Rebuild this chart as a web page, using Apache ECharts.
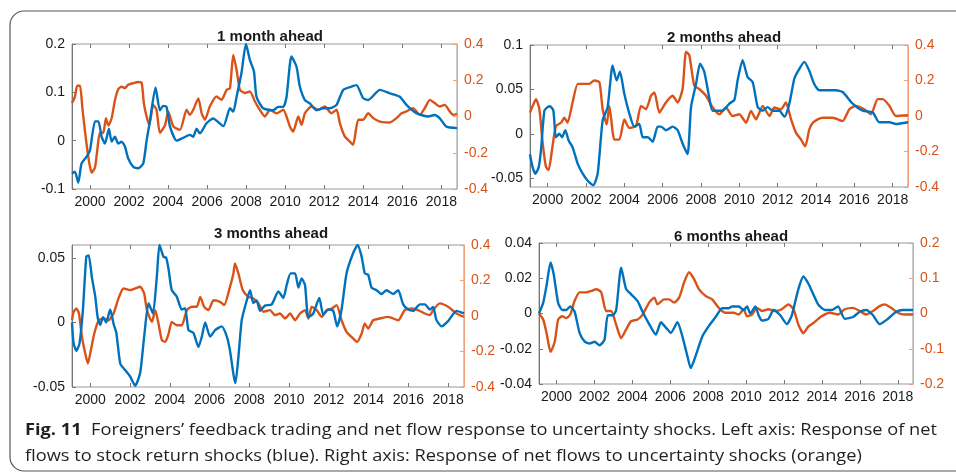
<!DOCTYPE html>
<html>
<head>
<meta charset="utf-8">
<script src="https://cdn.jsdelivr.net/npm/echarts@6/dist/echarts.min.js"></script>
<style>
  html, body { margin: 0; padding: 0; background: #fff; }
  #chart { width: 956px; height: 474px; }
</style>
</head>
<body>
<div id="chart"></div>
<script>
// x tick years, shared by all panels
const yearTicks = [2000, 2002, 2004, 2006, 2008, 2010, 2012, 2014, 2016, 2018];
const xMin = 1999.08, xMax = 2018.8;

const titles = ['1 month ahead', '2 months ahead', '3 months ahead', '6 months ahead'];

// [year, response]
const p1Blue = [[1999.08,-0.068],[1999.23,-0.064],[1999.40,-0.087],[1999.57,-0.047],[1999.83,-0.033],[2000.00,-0.02],[2000.26,0.04],[2000.43,0.04],[2000.60,0.008],[2000.77,-0.006],[2000.97,0.025],[2001.11,-0.002],[2001.28,0.008],[2001.45,-0.006],[2001.62,-0.002],[2001.79,-0.012],[2001.96,-0.037],[2002.22,-0.054],[2002.47,-0.057],[2002.73,-0.047],[2002.90,0],[2003.05,0.035],[2003.36,0.11],[2003.58,0.063],[2003.75,0.072],[2003.92,0.07],[2004.10,0.029],[2004.44,0],[2004.78,0.006],[2005.12,0.012],[2005.29,0.008],[2005.46,0.025],[2005.63,0.015],[2005.97,0.036],[2006.31,0.046],[2006.83,0.03],[2007.17,0.067],[2007.34,0.06],[2007.51,0.091],[2007.76,0.14],[2007.99,0.2],[2008.19,0.167],[2008.40,0.143],[2008.53,0.091],[2008.87,0.067],[2009.39,0.063],[2009.64,0.07],[2009.90,0.07],[2010.07,0.091],[2010.32,0.174],[2010.58,0.153],[2010.75,0.112],[2011.01,0.084],[2011.26,0.077],[2011.60,0.063],[2011.95,0.067],[2012.29,0.067],[2012.63,0.074],[2012.97,0.105],[2013.40,0.112],[2013.65,0.115],[2013.99,0.088],[2014.25,0.084],[2014.85,0.105],[2015.36,0.098],[2015.87,0.091],[2016.21,0.074],[2016.72,0.057],[2017.32,0.05],[2017.66,0.053],[2017.92,0.046],[2018.26,0.029],[2018.80,0.026]];
const p1Orange = [[1999.08,0.074],[1999.23,0.11],[1999.35,0.17],[1999.49,0.17],[1999.62,0.037],[1999.80,-0.13],[1999.97,-0.26],[2000.09,-0.31],[2000.26,-0.28],[2000.38,-0.18],[2000.51,-0.09],[2000.68,-0.09],[2000.82,-0.01],[2000.94,-0.05],[2001.11,-0.01],[2001.28,0.09],[2001.45,0.15],[2001.62,0.165],[2001.79,0.157],[2001.96,0.175],[2002.22,0.184],[2002.47,0.19],[2002.65,0.184],[2002.76,0.074],[2002.90,0],[2003.04,-0.046],[2003.24,0.064],[2003.41,0.037],[2003.58,-0.09],[2003.84,-0.05],[2004.01,0.028],[2004.27,-0.055],[2004.61,-0.074],[2004.95,0.037],[2005.12,0.009],[2005.29,0.037],[2005.55,0.1],[2005.72,0.018],[2005.89,-0.018],[2006.14,0.055],[2006.48,0.11],[2006.74,0.092],[2007.00,0.147],[2007.17,0.156],[2007.34,0.34],[2007.51,0.257],[2007.68,0.147],[2007.94,0.13],[2008.19,0.138],[2008.45,0.083],[2008.70,0.037],[2008.96,0],[2009.22,0.037],[2009.56,0.018],[2009.90,0.037],[2010.24,-0.055],[2010.41,-0.083],[2010.67,0],[2010.84,-0.046],[2011.01,0.018],[2011.35,0.055],[2011.69,0.037],[2012.03,0.055],[2012.37,0.018],[2012.63,0.037],[2012.80,-0.037],[2013.05,-0.11],[2013.31,-0.138],[2013.48,-0.156],[2013.74,-0.018],[2013.99,-0.018],[2014.25,0.018],[2014.51,-0.009],[2014.85,-0.028],[2015.36,-0.033],[2015.70,-0.009],[2015.96,0.018],[2016.21,0.028],[2016.55,0.046],[2016.89,0.009],[2017.15,0.046],[2017.41,0.092],[2017.66,0.074],[2017.92,0.055],[2018.17,0.064],[2018.43,0.028],[2018.60,0.009],[2018.80,0.015]];

const p2Blue = [[1999.08,-0.023],[1999.22,-0.038],[1999.36,-0.045],[1999.53,-0.038],[1999.65,-0.019],[1999.83,0.026],[2000.00,0.03],[2000.12,0.031],[2000.30,0.026],[2000.43,-0.004],[2000.61,0],[2000.75,-0.004],[2000.92,0.004],[2001.10,-0.008],[2001.30,-0.015],[2001.57,-0.034],[2001.83,-0.045],[2002.09,-0.053],[2002.38,-0.058],[2002.61,-0.045],[2002.87,0.015],[2003.13,0.03],[2003.39,0.077],[2003.60,0.06],[2003.77,0.07],[2004.00,0.045],[2004.26,0.023],[2004.52,0.008],[2004.78,0.011],[2004.96,-0.004],[2005.22,-0.004],[2005.48,-0.009],[2005.74,0.008],[2005.91,0.008],[2006.17,0.004],[2006.52,0.008],[2006.78,0.004],[2007.04,-0.011],[2007.30,-0.023],[2007.48,0.03],[2007.74,0.056],[2007.95,0.079],[2008.17,0.07],[2008.43,0.041],[2008.61,0.026],[2009.13,0.026],[2009.48,0.034],[2009.74,0.038],[2009.91,0.06],[2010.17,0.083],[2010.43,0.064],[2010.70,0.058],[2010.96,0.03],[2011.22,0.026],[2011.48,0.03],[2011.74,0.026],[2012.09,0.026],[2012.35,0.019],[2012.61,0.034],[2012.87,0.062],[2013.13,0.073],[2013.39,0.081],[2013.65,0.071],[2013.91,0.056],[2014.17,0.049],[2014.52,0.049],[2015.04,0.049],[2015.39,0.047],[2015.91,0.034],[2016.43,0.026],[2016.96,0.024],[2017.30,0.013],[2017.83,0.013],[2018.17,0.011],[2018.80,0.013]];
const p2Orange = [[1999.08,0.019],[1999.22,0.057],[1999.39,0.095],[1999.57,0.038],[1999.74,-0.152],[1999.91,-0.286],[2000.05,-0.305],[2000.23,-0.19],[2000.43,-0.057],[2000.70,-0.038],[2000.87,-0.01],[2001.04,-0.038],[2001.30,0.076],[2001.57,0.181],[2001.83,0.181],[2002.17,0.181],[2002.43,0.2],[2002.70,0.19],[2002.87,0.038],[2003.08,-0.048],[2003.22,0.057],[2003.48,-0.133],[2003.74,-0.133],[2004.00,-0.019],[2004.26,-0.067],[2004.61,-0.057],[2004.87,0.057],[2005.13,0.038],[2005.39,0.114],[2005.57,0.133],[2005.83,0.019],[2006.17,0.076],[2006.52,0.114],[2006.78,0.076],[2007.04,0.152],[2007.22,0.362],[2007.39,0.343],[2007.65,0.171],[2007.91,0.152],[2008.26,0.114],[2008.61,0.048],[2008.96,0.01],[2009.30,0.048],[2009.65,0],[2010.00,0.01],[2010.35,-0.038],[2010.61,0.029],[2010.87,-0.019],[2011.22,0.057],[2011.57,0],[2011.83,0.048],[2012.17,0.038],[2012.43,0.076],[2012.70,-0.019],[2012.96,-0.095],[2013.22,-0.133],[2013.44,-0.171],[2013.65,-0.076],[2013.83,-0.038],[2014.09,-0.019],[2014.35,-0.01],[2014.87,-0.01],[2015.39,-0.029],[2015.74,0.038],[2016.09,0.057],[2016.52,0.038],[2016.87,0.01],[2017.22,0.095],[2017.48,0.095],[2017.83,0.057],[2018.17,0],[2018.80,0.004]];

const p3Blue = [[1999.08,0],[1999.16,-0.016],[1999.30,-0.022],[1999.46,-0.016],[1999.63,0.01],[1999.80,0.051],[1999.92,0.052],[2000.08,0.035],[2000.25,0.02],[2000.37,0.004],[2000.50,-0.002],[2000.64,0.004],[2000.80,0],[2001.00,0.01],[2001.17,-0.001],[2001.31,-0.008],[2001.51,-0.032],[2001.76,-0.037],[2002.01,-0.042],[2002.26,-0.049],[2002.51,-0.039],[2002.71,-0.011],[2002.93,0.015],[2003.15,0.007],[2003.35,0.036],[2003.48,0.06],[2003.68,0.051],[2003.82,0.05],[2003.94,0.041],[2004.10,0.025],[2004.35,0.02],[2004.60,0.01],[2004.77,0.011],[2004.94,-0.006],[2005.19,-0.008],[2005.44,-0.019],[2005.61,-0.011],[2005.78,0],[2006.03,-0.011],[2006.28,-0.006],[2006.61,-0.003],[2006.87,-0.011],[2007.03,-0.022],[2007.20,-0.04],[2007.30,-0.047],[2007.45,-0.027],[2007.62,0.002],[2007.87,0.017],[2008.04,0.025],[2008.20,0.015],[2008.37,0.017],[2008.54,0.009],[2008.79,0.013],[2009.13,0.014],[2009.46,0.024],[2009.71,0.019],[2009.88,0.029],[2010.08,0.038],[2010.30,0.038],[2010.47,0.027],[2010.63,0.034],[2010.80,0.029],[2010.97,0.004],[2011.22,0.007],[2011.52,0.019],[2011.72,0.006],[2011.97,0.01],[2012.22,0.009],[2012.42,-0.003],[2012.64,0.01],[2012.89,0.038],[2013.23,0.054],[2013.45,0.06],[2013.65,0.051],[2013.81,0.038],[2013.98,0.037],[2014.15,0.027],[2014.40,0.025],[2014.65,0.022],[2014.90,0.025],[2015.24,0.022],[2015.49,0.025],[2015.74,0.014],[2015.99,0.01],[2016.24,0.009],[2016.58,0.014],[2016.83,0.014],[2017.08,0.01],[2017.25,0.012],[2017.41,0.002],[2017.67,-0.003],[2018.00,0.001],[2018.42,0.009],[2018.80,0.007]];
const p3Orange = [[1999.08,-0.024],[1999.16,0.023],[1999.30,0.042],[1999.43,0.014],[1999.58,-0.118],[1999.75,-0.212],[1999.88,-0.268],[2000.03,-0.193],[2000.20,-0.099],[2000.42,-0.024],[2000.67,-0.014],[2000.92,-0.024],[2001.17,0.014],[2001.42,0.099],[2001.67,0.155],[2002.01,0.146],[2002.26,0.155],[2002.51,0.165],[2002.71,0.127],[2002.85,0.033],[2003.10,-0.033],[2003.27,0.033],[2003.43,-0.042],[2003.60,-0.136],[2003.77,-0.146],[2003.94,-0.099],[2004.10,-0.033],[2004.35,-0.052],[2004.60,-0.052],[2004.86,0.033],[2005.11,0.052],[2005.36,0.052],[2005.53,0.108],[2005.73,0.052],[2005.94,0.033],[2006.20,0.089],[2006.53,0.08],[2006.73,0.061],[2007.03,0.165],[2007.20,0.24],[2007.28,0.296],[2007.45,0.24],[2007.67,0.146],[2007.95,0.108],[2008.20,0.099],[2008.46,0.071],[2008.71,0.024],[2009.04,0.033],[2009.29,0.005],[2009.54,0.014],[2009.80,-0.014],[2010.05,0.014],[2010.30,-0.024],[2010.55,0.014],[2010.80,0.033],[2010.97,-0.014],[2011.14,0.052],[2011.39,0.033],[2011.64,-0.005],[2011.89,0.033],[2012.14,0.042],[2012.39,0.061],[2012.64,-0.024],[2012.89,-0.089],[2013.23,-0.127],[2013.43,-0.146],[2013.65,-0.099],[2013.81,-0.042],[2013.98,-0.071],[2014.23,-0.024],[2014.57,-0.014],[2014.99,-0.005],[2015.49,-0.024],[2015.82,0.033],[2016.16,0.042],[2016.49,0.033],[2016.83,0.014],[2017.08,0.005],[2017.25,0.033],[2017.58,0.071],[2018.00,0.052],[2018.42,0.014],[2018.80,-0.005]];

const p4Blue = [[1999.08,0],[1999.30,0.006],[1999.48,0.016],[1999.69,0.029],[1999.86,0.022],[2000.09,0.006],[2000.31,0.002],[2000.52,0.002],[2000.73,0.004],[2000.96,0.001],[2001.22,-0.011],[2001.49,-0.016],[2001.75,-0.017],[2002.01,-0.016],[2002.27,-0.018],[2002.53,-0.015],[2002.71,-0.001],[2002.97,-0.001],[2003.15,0.002],[2003.41,0.026],[2003.67,0.014],[2003.93,0.011],[2004.28,0.007],[2004.54,0.001],[2004.89,-0.006],[2005.24,-0.012],[2005.51,-0.005],[2005.77,-0.008],[2006.03,-0.011],[2006.38,-0.005],[2006.64,-0.013],[2006.90,-0.024],[2007.08,-0.031],[2007.34,-0.024],[2007.69,-0.013],[2008.04,-0.007],[2008.39,-0.002],[2008.74,0.003],[2009.09,0.003],[2009.26,0.004],[2009.61,0.004],[2009.87,0.002],[2010.05,0.004],[2010.22,0],[2010.49,0.004],[2010.66,-0.001],[2010.84,-0.004],[2011.18,-0.003],[2011.45,0.002],[2011.80,-0.001],[2012.15,-0.006],[2012.41,-0.001],[2012.76,0.014],[2013.02,0.021],[2013.28,0.017],[2013.54,0.011],[2013.81,0.005],[2014.16,0.002],[2014.51,0.002],[2014.85,0.004],[2015.20,-0.003],[2015.64,-0.002],[2015.99,0.001],[2016.34,0.002],[2016.69,-0.001],[2017.04,-0.006],[2017.48,-0.003],[2017.91,0.001],[2018.26,0.002],[2018.80,0.002]];
const p4Orange = [[1999.08,0],[1999.30,-0.017],[1999.48,-0.056],[1999.69,-0.109],[1999.91,-0.08],[2000.09,-0.017],[2000.31,-0.008],[2000.52,-0.013],[2000.73,-0.003],[2000.96,0.036],[2001.22,0.06],[2001.57,0.06],[2001.84,0.064],[2002.10,0.069],[2002.36,0.06],[2002.62,0.007],[2002.88,0.007],[2003.15,-0.032],[2003.41,-0.07],[2003.67,-0.046],[2003.93,-0.022],[2004.28,-0.017],[2004.54,-0.003],[2004.89,0.031],[2005.16,0.045],[2005.33,0.026],[2005.68,0.04],[2005.94,0.04],[2006.20,0.031],[2006.47,0.045],[2006.73,0.088],[2006.99,0.117],[2007.25,0.098],[2007.51,0.069],[2007.86,0.05],[2008.21,0.04],[2008.56,0.016],[2008.91,0.002],[2009.35,0.002],[2009.61,-0.003],[2009.87,0.012],[2010.05,-0.008],[2010.31,-0.003],[2010.57,0.016],[2010.84,0.007],[2011.18,0.012],[2011.53,0.007],[2011.88,0.012],[2012.23,0.026],[2012.50,0.012],[2012.76,-0.032],[2013.02,-0.056],[2013.28,-0.037],[2013.54,-0.027],[2013.98,-0.008],[2014.42,0.002],[2014.85,-0.003],[2015.20,0.012],[2015.64,0.016],[2015.99,0.007],[2016.34,-0.003],[2016.69,0.007],[2017.04,0.021],[2017.30,0.026],[2017.65,0.016],[2018.00,0.002],[2018.35,-0.003],[2018.80,-0.003]];

// axis ranges and tick labels
const leftRange = [[-0.1, 0.2], [-0.06, 0.1], [-0.05, 0.06], [-0.04, 0.04]];
const leftTicks = [[-0.1, 0, 0.1, 0.2], [-0.05, 0, 0.05, 0.1], [-0.05, 0, 0.05], [-0.04, -0.02, 0, 0.02, 0.04]];
const rightRange = [[-0.4, 0.4], [-0.4, 0.4], [-0.4, 0.4], [-0.2, 0.2]];
const rightTicks = [[-0.4, -0.2, 0, 0.2, 0.4], [-0.4, -0.2, 0, 0.2, 0.4], [-0.4, -0.2, 0, 0.2, 0.4], [-0.2, -0.1, 0, 0.1, 0.2]];

const blueData = [p1Blue, p2Blue, p3Blue, p4Blue];
const orangeData = [p1Orange, p2Orange, p3Orange, p4Orange];

const BLUE = '#0072BD', ORANGE = '#D95319';
const FONT = 'Liberation Sans, Arial, sans-serif';

// plot boxes in px
const boxes = [
  {left: 72, top: 44, width: 385, height: 145, tx: 265, ty: 24},
  {left: 530, top: 45, width: 378, height: 142, tx: 719, ty: 25},
  {left: 72, top: 245, width: 392, height: 142, tx: 266, ty: 221},
  {left: 539, top: 243, width: 374, height: 141, tx: 726, ty: 224}
];

const fmt = v => String(+v.toFixed(3));

let grids = [], xAxes = [], yAxes = [], series = [], titleList = [];
boxes.forEach((b, i) => {
  grids.push({left: b.left, top: b.top, width: b.width, height: b.height,
    show: true, borderColor: '#9a9a9a', borderWidth: 1, backgroundColor: '#fff'});
  titleList.push({text: titles[i], left: b.tx, top: b.ty, textAlign: 'center',
    textStyle: {fontSize: 15, fontWeight: 'bold', color: '#1a1a1a', fontFamily: FONT}});
  const tickStyle = {inside: true, length: 4, customValues: yearTicks, lineStyle: {color: '#777'}};
  xAxes.push({type: 'value', gridIndex: i, min: xMin, max: xMax, position: 'bottom',
    axisLine: {show: false, onZero: false}, splitLine: {show: false}, axisTick: tickStyle,
    axisLabel: {customValues: yearTicks, formatter: v => String(v), fontSize: 14, color: '#1a1a1a', margin: 6, fontFamily: FONT}});
  xAxes.push({type: 'value', gridIndex: i, min: xMin, max: xMax, position: 'top',
    axisLine: {show: false, onZero: false}, splitLine: {show: false}, axisTick: tickStyle,
    axisLabel: {show: false}});
  yAxes.push({type: 'value', gridIndex: i, position: 'left', min: leftRange[i][0], max: leftRange[i][1],
    axisLine: {show: true, lineStyle: {color: '#777'}}, splitLine: {show: false},
    axisTick: {show: true, inside: true, length: 4, customValues: leftTicks[i], lineStyle: {color: '#777'}},
    axisLabel: {customValues: leftTicks[i], formatter: fmt, fontSize: 14, color: '#1a1a1a', margin: 7, fontFamily: FONT}});
  yAxes.push({type: 'value', gridIndex: i, position: 'right', min: rightRange[i][0], max: rightRange[i][1],
    axisLine: {show: true, lineStyle: {color: '#F0A07A'}}, splitLine: {show: false},
    axisTick: {show: true, inside: true, length: 4, customValues: rightTicks[i], lineStyle: {color: '#F0A07A'}},
    axisLabel: {customValues: rightTicks[i], formatter: fmt, fontSize: 14, color: ORANGE, margin: 7, fontFamily: FONT}});
  series.push({type: 'line', xAxisIndex: 2 * i, yAxisIndex: 2 * i + 1, data: orangeData[i],
    showSymbol: false, smooth: 0.2, lineStyle: {color: ORANGE, width: 2.4}, animation: false});
  series.push({type: 'line', xAxisIndex: 2 * i, yAxisIndex: 2 * i, data: blueData[i],
    showSymbol: false, smooth: 0.2, lineStyle: {color: BLUE, width: 2.4}, animation: false});
});

// caption lines, squeezed to the measured width of the printed caption
const capFont = '16px "Open Sans", sans-serif';
const capBold = 'bold 16px "Open Sans", sans-serif';
const line1a = 'Fig. 11', line1b = '  Foreigners’ feedback trading and net flow response to uncertainty shocks. Left axis: Response of net';
const line2 = 'flows to stock return shocks (blue). Right axis: Response of net flows to uncertainty shocks (orange)';
const ctx = document.createElement('canvas').getContext('2d');
ctx.font = capBold; let w1 = ctx.measureText(line1a).width;
ctx.font = capFont; w1 += ctx.measureText(line1b).width;
const sx = 912 / w1;

const chart = echarts.init(document.getElementById('chart'), null, {renderer: 'canvas'});
chart.setOption({
  animation: false,
  title: titleList,
  grid: grids,
  xAxis: xAxes,
  yAxis: yAxes,
  series: series,
  graphic: [
    {type: 'rect', z: -10, silent: true, shape: {x: 10, y: 11, width: 1000, height: 460, r: 14},
      style: {fill: null, stroke: '#555', lineWidth: 1.2}},
    {type: 'text', x: 25, y: 430, scaleX: sx, silent: true,
      style: {text: '{b|' + line1a + '}' + line1b, font: capFont, fill: '#231f20', verticalAlign: 'middle',
        rich: {b: {font: capBold, fill: '#231f20'}}}},
    {type: 'text', x: 25, y: 456, scaleX: sx, silent: true,
      style: {text: line2, font: capFont, fill: '#231f20', verticalAlign: 'middle'}}
  ]
});
</script>
</body>
</html>
